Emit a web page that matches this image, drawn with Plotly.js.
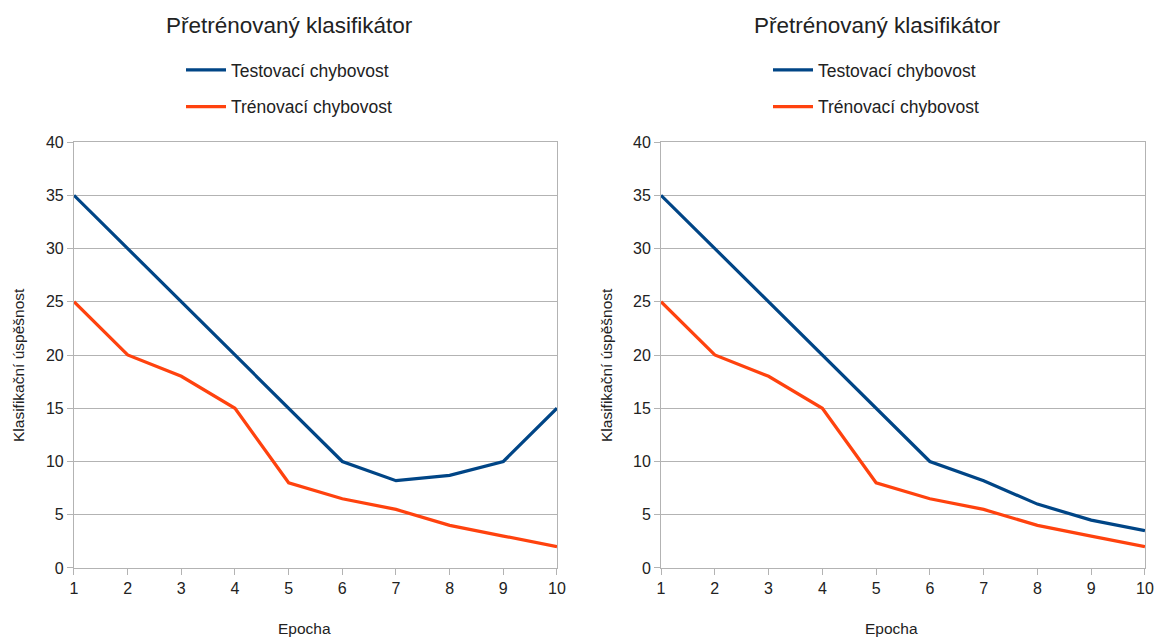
<!DOCTYPE html>
<html><head><meta charset="utf-8">
<script src="https://cdn.plot.ly/plotly-3.0.1.min.js"></script>
<style>html,body{margin:0;padding:0;background:#fff}#chart{width:1165px;height:640px}</style>
</head><body><div id="chart"></div>
<script>
const epochs = [1,2,3,4,5,6,7,8,9,10];
const testLeft = [35,30,25,20,15,10,8.2,8.7,10,15];
const trainLeft = [25,20,18,15,8,6.5,5.5,4,3,2];
const testRight = [35,30,25,20,15,10,8.2,6,4.5,3.5];
const trainRight = [25,20,18,15,8,6.5,5.5,4,3,2];
const chartTitle = "Přetrénovaný klasifikátor";
const testName = "Testovací chybovost";
const trainName = "Trénovací chybovost";
const xTitle = "Epocha";
const yTitle = "Klasifikační úspěšnost";
const yTicks = [0,5,10,15,20,25,30,35,40];

const BLUE = "#004586", ORANGE = "#ff420e", GRID = "#b3b3b3";
const FONT = "Liberation Sans, Arial, sans-serif";

const traces = [
  {x: epochs, y: testLeft, name: testName, mode: "lines", line:{color:BLUE,width:3.2}, xaxis:"x", yaxis:"y", legend:"legend", legendgroup:"a"},
  {x: epochs, y: trainLeft, name: trainName, mode: "lines", line:{color:ORANGE,width:3.2}, xaxis:"x", yaxis:"y", legend:"legend", legendgroup:"b"},
  {x: epochs, y: testRight, name: testName, mode: "lines", line:{color:BLUE,width:3.2}, xaxis:"x2", yaxis:"y2", legend:"legend2", legendgroup:"c"},
  {x: epochs, y: trainRight, name: trainName, mode: "lines", line:{color:ORANGE,width:3.2}, xaxis:"x2", yaxis:"y2", legend:"legend2", legendgroup:"d"}
];

function xax(domain, anchor){
  return {domain: domain, anchor: anchor, range:[1,10], tickvals: epochs, showgrid:false, zeroline:false,
    showline:true, linecolor:GRID, mirror:true, ticks:"outside", ticklen:6, tickcolor:GRID,
    tickfont:{family:FONT,size:16,color:"#222"}, fixedrange:true};
}
function yax(anchor){
  return {domain:[0.1125,0.7781], anchor: anchor, range:[0,40], tickvals: yTicks, showgrid:true, gridcolor:GRID, gridwidth:1,
    zeroline:false, showline:true, linecolor:GRID, mirror:true, ticks:"outside", ticklen:6, tickcolor:GRID,
    tickfont:{family:FONT,size:16,color:"#222"}, fixedrange:true};
}
const legendBase = {orientation:"v", xanchor:"left", yanchor:"top", tracegroupgap:11, bgcolor:"rgba(0,0,0,0)",
  font:{family:FONT,size:17.5,color:"#222"}, itemwidth:40};

function ann(text, x, y, size, angle){
  return {text:text, x:x/1165, y:1-y/640, xref:"paper", yref:"paper", xanchor:"center", yanchor:"middle",
    showarrow:false, textangle:angle||0, font:{family:FONT,size:size,color:"#222"}};
}

const layout = {
  width:1165, height:640, margin:{l:0,r:0,t:0,b:0}, paper_bgcolor:"#fff", plot_bgcolor:"#fff",
  font:{family:FONT,color:"#222"},
  xaxis: xax([0.0635,0.4781],"y"),
  yaxis: yax("x"),
  xaxis2: xax([0.5674,0.9828],"y2"),
  yaxis2: yax("x2"),
  showlegend:true,
  legend: Object.assign({x:181/1165, y:1-52/640}, legendBase),
  legend2: Object.assign({x:768/1165, y:1-52/640}, legendBase),
  annotations: [
    ann(chartTitle, 289, 25, 22.5),
    ann(chartTitle, 877, 25, 22.5),
    ann(xTitle, 304, 628, 15.5),
    ann(xTitle, 891, 628, 15.5),
    ann(yTitle, 18, 365, 15.5, -90),
    ann(yTitle, 606, 365, 15.5, -90)
  ]
};
Plotly.newPlot("chart", traces, layout, {staticPlot:true, displayModeBar:false});
</script></body></html>
